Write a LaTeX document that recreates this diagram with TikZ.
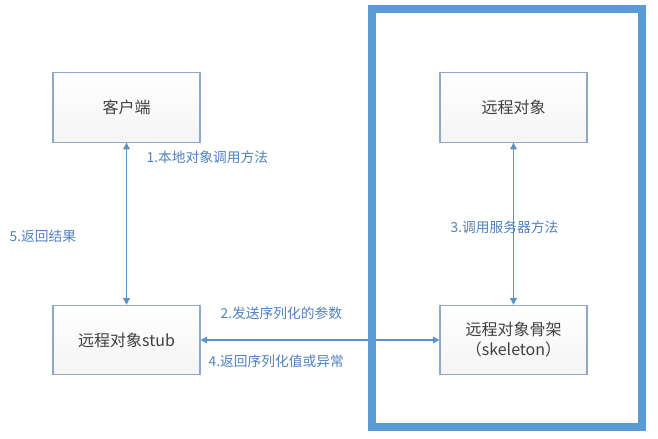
\documentclass[tikz,border=0pt]{standalone}
\usepackage{fontspec}
\setmainfont{Noto Sans CJK SC}
\usetikzlibrary{arrows.meta}
\definecolor{frameblue}{HTML}{5B9BD5}
\definecolor{lineblue}{HTML}{5B8FC7}
\definecolor{boxline}{HTML}{8EA9C8}
\definecolor{labelblue}{HTML}{4F81BD}
\tikzset{
  box/.style={draw=boxline, line width=0.8pt, top color=white, bottom color=blue!4!gray!8, minimum width=110.25pt, minimum height=52pt, font=\fontsize{12}{15}\selectfont, text=black!75, align=center},
  conn/.style={draw=lineblue, line width=0.9pt, {Triangle[length=5pt,width=5pt]}-{Triangle[length=5pt,width=5pt]}},
  lbl/.style={text=labelblue, font=\fontsize{10.3}{12}\selectfont}
}
\begin{document}
\begin{tikzpicture}[x=0.75pt,y=-0.75pt]
\useasboundingbox (0,0) rectangle (658,439);
\node[box] (client) at (126.5,107.5) {客户端};
\node[box] (remote) at (513.5,107.5) {远程对象};
\node[box] (stub) at (126.5,340) {远程对象stub};
\node[box] (skel) at (513.5,340) {远程对象骨架\\（skeleton）};
\draw[conn] (client.south) -- (stub.north);
\draw[conn] (remote.south) -- (skel.north);
\draw[conn] (stub.east) -- (skel.west);
\node[lbl, anchor=west] (l1) at (142,157) {1.本地对象调用方法};
\node[lbl, anchor=west] (l5) at (5,236) {5.返回结果};
\node[lbl, anchor=west] (l3) at (446,227) {3.调用服务器方法};
\node[lbl, anchor=west] (l2) at (216,313) {2.发送序列化的参数};
\node[lbl, anchor=west] (l4) at (204,361) {4.返回序列化值或异常};
\draw[frameblue, line width=6pt] (371.5,8.5) rectangle (641.5,427);
\end{tikzpicture}
\end{document}
